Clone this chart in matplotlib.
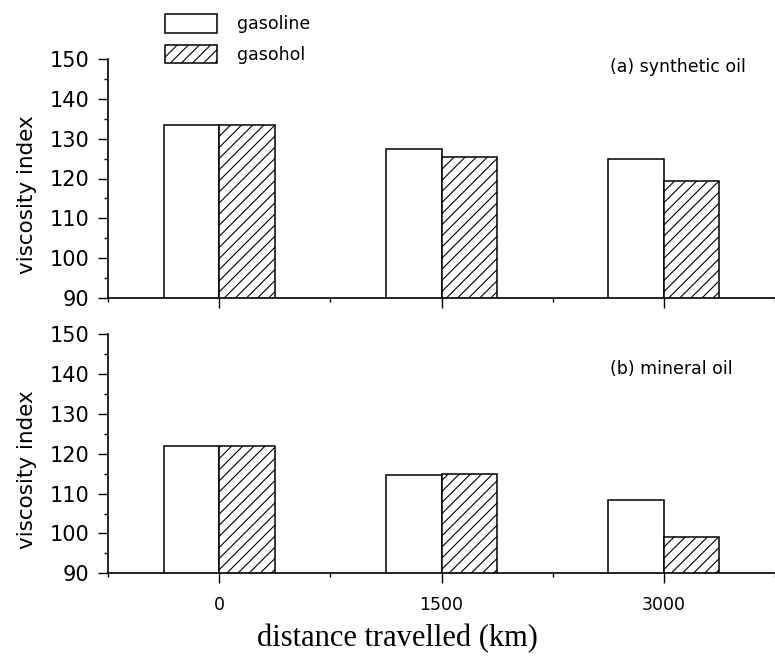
import matplotlib
matplotlib.use('Agg')
from matplotlib import pyplot as plt
from matplotlib.patches import Patch
from matplotlib.ticker import MultipleLocator

# data
distance = [0, 1500, 3000]
synthetic_gasoline = [133.4, 127.4, 124.9]
synthetic_gasohol = [133.4, 125.5, 119.4]
mineral_gasoline = [122.0, 114.6, 108.5]
mineral_gasohol = [122.0, 115.0, 99.0]
tick_labels = ['0', '1500', '3000']
series_names = ['gasoline', 'gasohol']
panel_titles = ['(a) synthetic oil', '(b) mineral oil']

W, H = 775, 661
plt.rcParams['hatch.linewidth'] = 0.8
plt.rcParams['hatch.color'] = 'black'

fig = plt.figure(figsize=(W / 100, H / 100), dpi=100)
ax1 = fig.add_axes([108 / W, 1 - 298 / H, 667 / W, 239 / H])
ax2 = fig.add_axes([108 / W, 1 - 573.3 / H, 667 / W, 239 / H])

bar_w = 375


def draw_panel(ax, gas, alc, title, title_y, show_labels):
    ax.bar(distance, gas, width=-bar_w, align='edge', facecolor='white',
           edgecolor='black', linewidth=1.1)
    ax.bar(distance, alc, width=bar_w, align='edge', facecolor='white',
           edgecolor='black', linewidth=1.1, hatch='///')
    ax.set_xlim(-750, 3750)
    ax.set_ylim(90, 150)
    for side in ['top', 'right']:
        ax.spines[side].set_visible(False)
    for side in ['left', 'bottom']:
        ax.spines[side].set_linewidth(1.2)
    ax.set_xticks(distance)
    ax.xaxis.set_minor_locator(MultipleLocator(750))
    ax.yaxis.set_major_locator(MultipleLocator(10))
    ax.yaxis.set_minor_locator(MultipleLocator(5))
    ax.tick_params(axis='both', which='major', direction='out', length=7.5, width=1.0)
    ax.tick_params(axis='both', which='minor', direction='out', length=3, width=1.0)
    ax.tick_params(axis='y', labelsize=15, pad=6)
    ax.tick_params(axis='x', labelsize=12.5, pad=9)
    if show_labels:
        ax.set_xticklabels(tick_labels)
    else:
        ax.set_xticklabels([])
    ax.set_ylabel('viscosity index', fontsize=15.5)
    ax.yaxis.set_label_coords(-0.106, 0.4335)
    ax.text(0.7526, title_y, title, transform=ax.transAxes, fontsize=12.5,
            ha='left', va='center')


draw_panel(ax1, synthetic_gasoline, synthetic_gasohol, panel_titles[0], 0.9665, False)
draw_panel(ax2, mineral_gasoline, mineral_gasohol, panel_titles[1], 0.855, True)

ax2.set_xlabel('distance travelled (km)', fontsize=22, family='Liberation Serif')
ax2.xaxis.set_label_coords(0.434, -0.21)

handles = [Patch(facecolor='white', edgecolor='black', linewidth=1.1),
           Patch(facecolor='white', edgecolor='black', linewidth=1.1, hatch='///')]
fig.legend(handles, series_names, loc='upper left', bbox_to_anchor=(165 / W, 1 - 14 / H),
           frameon=False, fontsize=12.5, borderpad=0, handlelength=3.0,
           handleheight=1.3, labelspacing=0.65, handletextpad=1.15, borderaxespad=0)

fig.savefig('out.png', dpi=100)
